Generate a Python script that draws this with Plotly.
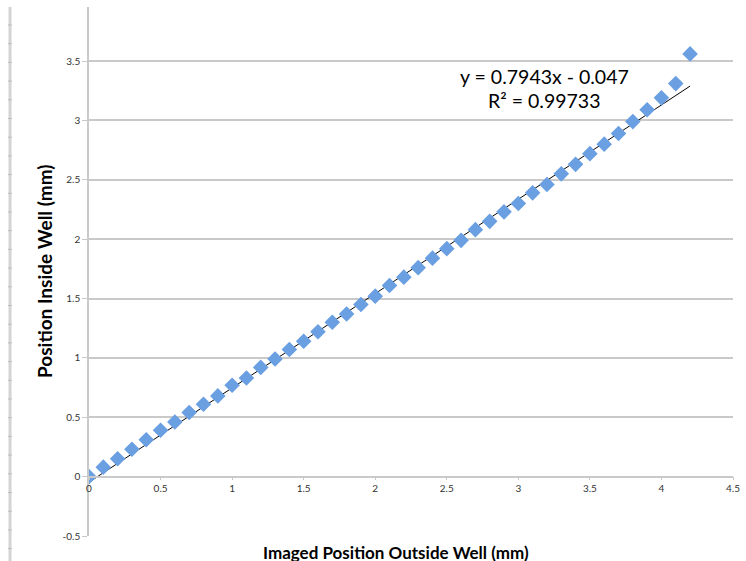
import numpy as np
import plotly.graph_objects as go

# Data
x_vals = [0.0, 0.1, 0.2, 0.3, 0.4, 0.5, 0.6, 0.7, 0.8, 0.9, 1.0,
          1.1, 1.2, 1.3, 1.4, 1.5, 1.6, 1.7, 1.8, 1.9, 2.0,
          2.1, 2.2, 2.3, 2.4, 2.5, 2.6, 2.7, 2.8, 2.9, 3.0,
          3.1, 3.2, 3.3, 3.4, 3.5, 3.6, 3.7, 3.8, 3.9, 4.0,
          4.1, 4.2]
y_vals = [0.00, 0.08, 0.15, 0.23, 0.31, 0.39, 0.46, 0.54, 0.61, 0.68, 0.77,
          0.83, 0.92, 0.99, 1.07, 1.14, 1.22, 1.30, 1.37, 1.45, 1.52,
          1.61, 1.68, 1.76, 1.84, 1.92, 1.99, 2.08, 2.15, 2.23, 2.30,
          2.39, 2.46, 2.55, 2.63, 2.72, 2.80, 2.89, 2.99, 3.09, 3.19,
          3.31, 3.56]

slope = 0.7943
intercept = -0.047
r_squared = 0.99733

x_ticks = [0, 0.5, 1, 1.5, 2, 2.5, 3, 3.5, 4, 4.5]
x_tick_labels = ["0", "0.5", "1", "1.5", "2", "2.5", "3", "3.5", "4", "4.5"]
y_ticks = [-0.5, 0, 0.5, 1, 1.5, 2, 2.5, 3, 3.5]
y_tick_labels = ["-0.5", "0", "0.5", "1", "1.5", "2", "2.5", "3", "3.5"]

FONT = "Lato, Open Sans, sans-serif"
GRID = "#c9c9c9"

W, H = 746, 561
L, R, T, B = 89, 13, 7, 25
PW, PH = W - L - R, H - T - B

def px(xp):
    return (xp - L) / PW

def py(yp):
    return (H - B - yp) / PH

y_range = [-0.5, 3.955]

fig = go.Figure()

# trendline
tx = np.array([min(x_vals), max(x_vals)])
fig.add_trace(go.Scatter(
    x=tx, y=slope * tx + intercept, mode="lines",
    line=dict(color="black", width=1), hoverinfo="skip", showlegend=False))

fig.add_trace(go.Scatter(
    x=x_vals, y=y_vals, mode="markers",
    marker=dict(symbol="diamond", size=12, color="#6a9fe2",
                line=dict(width=0)),
    showlegend=False))

fig.update_layout(
    width=W, height=H,
    margin=dict(l=L, r=R, t=T, b=B, autoexpand=False),
    paper_bgcolor="white", plot_bgcolor="white",
    font=dict(family=FONT, color="#222"),
    xaxis=dict(
        range=[0, 4.5], tickvals=x_ticks, ticktext=x_tick_labels,
        showgrid=False, zeroline=False, showline=True, linecolor=GRID,
        linewidth=1.5, ticks="outside", ticklen=3, tickcolor=GRID,
        tickfont=dict(size=10, family=FONT, color="#333"),
        anchor="free", position=(0 - y_range[0]) / (y_range[1] - y_range[0]),
        automargin=False,
    ),
    yaxis=dict(
        range=y_range, tickvals=y_ticks, ticktext=y_tick_labels,
        showgrid=True, gridcolor=GRID, gridwidth=1.5, zeroline=False,
        showline=True, linecolor=GRID, linewidth=1.5,
        ticks="outside", ticklen=5, tickcolor=GRID,
        tickfont=dict(size=10, family=FONT, color="#333"),
        automargin=False,
    ),
)

# Equation annotation
fig.add_annotation(
    xref="paper", yref="paper", x=px(544), y=py(76), showarrow=False,
    xanchor="center", yanchor="middle",
    text=f"y = {slope}x - {abs(intercept)}",
    font=dict(size=19.5, family=FONT, color="black"))
fig.add_annotation(
    xref="paper", yref="paper", x=px(544), y=py(100), showarrow=False,
    xanchor="center", yanchor="middle",
    text=f"R² = {r_squared}",
    font=dict(size=19.5, family=FONT, color="black"))

# Axis titles
fig.add_annotation(
    xref="paper", yref="paper", x=px(396), y=py(552), showarrow=False,
    xanchor="center", yanchor="middle",
    text="<b>Imaged Position Outside Well (mm)</b>",
    font=dict(size=17, family=FONT, color="black"))
fig.add_annotation(
    xref="paper", yref="paper", x=px(44), y=py(271), showarrow=False,
    xanchor="center", yanchor="middle",
    textangle=-90, text="<b>Position Inside Well (mm)</b>",
    font=dict(size=19, family=FONT, color="black"))

# left page ruler decoration
shapes = [dict(type="line", xref="paper", yref="paper",
               x0=px(10), x1=px(10), y0=py(7), y1=py(561),
               line=dict(color="#d4d4d4", width=3))]
for k in range(30):
    yy = 25 + 18.7 * k
    if yy > 561:
        break
    shapes.append(dict(type="line", xref="paper", yref="paper",
                       x0=px(8), x1=px(12), y0=py(yy), y1=py(yy),
                       line=dict(color="#bdbdbd", width=1)))
fig.update_layout(shapes=shapes)

fig.write_html(
    "out.html",
    config={"displayModeBar": False},
    post_script="document.body.style.margin='0';document.body.style.overflow='hidden';",
)
